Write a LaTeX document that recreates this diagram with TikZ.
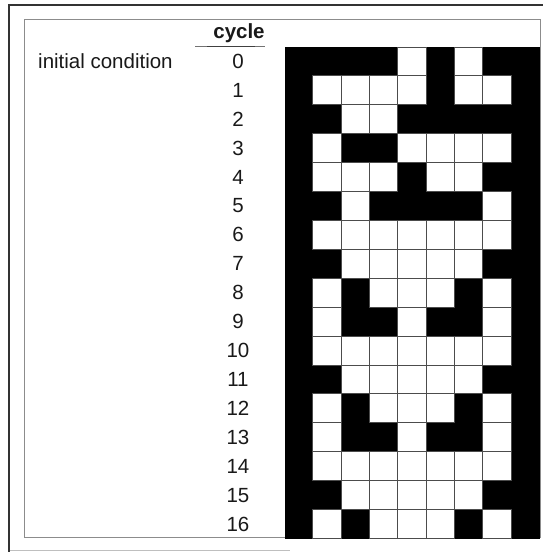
\documentclass[tikz,border=0pt]{standalone}
\usepackage{fontspec}
\setmainfont{Liberation Sans}
\begin{document}
\begin{tikzpicture}[x=1pt,y=-1pt,
  lbl/.style={font=\fontsize{20.5}{22}\selectfont, inner sep=0pt, text=black!90},
  cellline/.style={draw=black!70, line width=0.9pt, fill=white},
  outerframe/.style={draw=black!80, line width=1.6pt},
  innerframe/.style={draw=black!45, line width=1pt}]
\useasboundingbox (0,0) rectangle (543,552);
\fill[white] (0,0) rectangle (543,552);
% frames
\draw[outerframe] (9,552) -- (9,5) -- (543,5);
\draw[black!25, line width=1pt] (10,550) -- (290,550);
\draw[innerframe] (24,19) rectangle (540,537);
% header
\node[lbl, font=\fontsize{20.5}{22}\selectfont\bfseries] (hdr) at (239,33) {cycle};
\draw[black!55, line width=1.2pt] (195,46.5) -- (265,46.5);
\draw[black!75, line width=1.4pt] (207,46.5) -- (255,46.5);
\node[lbl, anchor=west] (init) at (38,61) {initial condition};
% grid
\def\gx{284.5}\def\gy{47}\def\cw{28.33}\def\rh{28.91}
\foreach \r/\row in {
 0/{1,1,1,1,0,1,0,1,1},
 1/{1,0,0,0,0,1,0,0,1},
 2/{1,1,0,0,1,1,1,1,1},
 3/{1,0,1,1,0,0,0,0,1},
 4/{1,0,0,0,1,0,0,1,1},
 5/{1,1,0,1,1,1,1,0,1},
 6/{1,0,0,0,0,0,0,0,1},
 7/{1,1,0,0,0,0,0,1,1},
 8/{1,0,1,0,0,0,1,0,1},
 9/{1,0,1,1,0,1,1,0,1},
 10/{1,0,0,0,0,0,0,0,1},
 11/{1,1,0,0,0,0,0,1,1},
 12/{1,0,1,0,0,0,1,0,1},
 13/{1,0,1,1,0,1,1,0,1},
 14/{1,0,0,0,0,0,0,0,1},
 15/{1,1,0,0,0,0,0,1,1},
 16/{1,0,1,0,0,0,1,0,1}} {
  \node[lbl] (n\r) at (238,{\gy+(\r+0.5)*\rh}) {\r};
  \foreach \v [count=\c from 0] in \row {
    \ifnum\v=1
      \fill[black] ({\gx+\c*\cw},{\gy+\r*\rh}) rectangle ({\gx+(\c+1)*\cw+0.3},{\gy+(\r+1)*\rh+0.3});
    \fi
  }
}
\foreach \r/\row in {
 0/{1,1,1,1,0,1,0,1,1},
 1/{1,0,0,0,0,1,0,0,1},
 2/{1,1,0,0,1,1,1,1,1},
 3/{1,0,1,1,0,0,0,0,1},
 4/{1,0,0,0,1,0,0,1,1},
 5/{1,1,0,1,1,1,1,0,1},
 6/{1,0,0,0,0,0,0,0,1},
 7/{1,1,0,0,0,0,0,1,1},
 8/{1,0,1,0,0,0,1,0,1},
 9/{1,0,1,1,0,1,1,0,1},
 10/{1,0,0,0,0,0,0,0,1},
 11/{1,1,0,0,0,0,0,1,1},
 12/{1,0,1,0,0,0,1,0,1},
 13/{1,0,1,1,0,1,1,0,1},
 14/{1,0,0,0,0,0,0,0,1},
 15/{1,1,0,0,0,0,0,1,1},
 16/{1,0,1,0,0,0,1,0,1}} {
  \foreach \v [count=\c from 0] in \row {
    \ifnum\v=0
      \draw[cellline] ({\gx+\c*\cw},{\gy+\r*\rh}) rectangle ({\gx+(\c+1)*\cw},{\gy+(\r+1)*\rh});
    \fi
  }
}
\end{tikzpicture}
\end{document}
